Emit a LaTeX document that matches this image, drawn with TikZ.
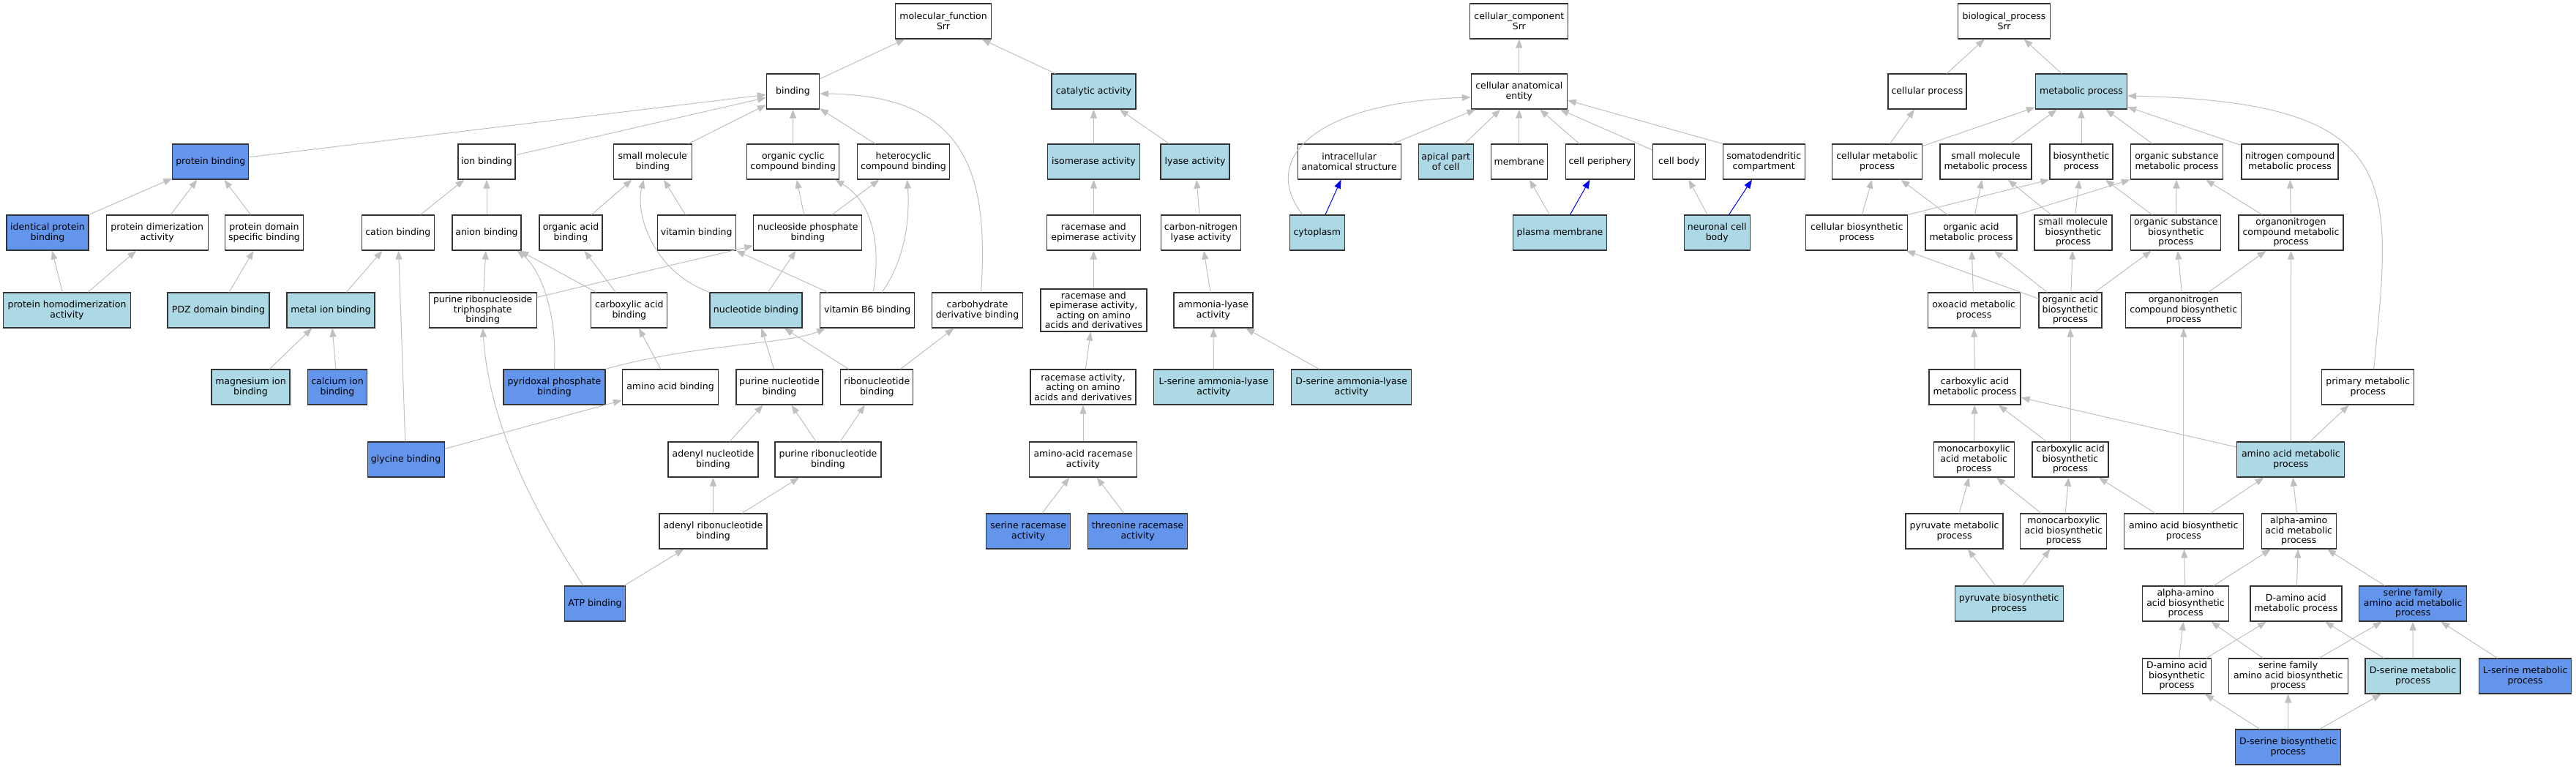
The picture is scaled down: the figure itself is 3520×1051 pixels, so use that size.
\documentclass[tikz,border=0pt]{standalone}
\usepackage{fontspec}
\setmainfont{DejaVu Sans}
\usetikzlibrary{arrows.meta}
\definecolor{nearblue}{HTML}{ADD8E6}
\definecolor{hitblue}{HTML}{6495ED}
\definecolor{edgegray}{HTML}{C0C0C0}
\newcommand{\golabel}{\fontsize{12.5}{13.5}\selectfont}

\begin{document}
\begin{tikzpicture}[x=1pt, y=-1pt,
    go/.style={draw=black!80, line width=1.2pt, fill=white, minimum height=48pt,
      inner xsep=2pt, inner ysep=4pt, align=center, font=\golabel},
    near/.style={go, fill=nearblue},
    hit/.style={go, fill=hitblue},
    wd/.style={minimum width=#1pt},
    isa/.style={draw=edgegray, line width=1pt, -{Triangle[length=12pt, width=9pt]}},
    every edge/.style={isa}]
  \path[use as bounding box, fill=white] (0,0) rectangle (3520,1051);

  % molecular function
  \node[go, wd=131] (mf) at (1289,29) {molecular\_function\\Srr};
  \node[go, wd=72] (bind) at (1083.5,125) {binding};
  \node[near, wd=115] (cat) at (1494.4,125) {catalytic activity};
  \node[hit, wd=104] (prot) at (287.8,221) {protein binding};
  \node[go, wd=78] (ion) at (665,221) {ion binding};
  \node[go, wd=107] (smb) at (891.8,221) {small molecule\\binding};
  \node[go, wd=126] (ocb) at (1083.7,221) {organic cyclic\\compound binding};
  \node[go, wd=126] (hcb) at (1234.5,221) {heterocyclic\\compound binding};
  \node[near, wd=126] (iso) at (1494.5,221) {isomerase activity};
  \node[near, wd=94] (lya) at (1633,221) {lyase activity};
  \node[hit, wd=112] (idp) at (65,318) {identical protein\\binding};
  \node[go, wd=139] (pda) at (214.7,318) {protein dimerization\\activity};
  \node[go, wd=107] (pds) at (361,318) {protein domain\\specific binding};
  \node[go, wd=99] (cati) at (543.8,318) {cation binding};
  \node[go, wd=94] (ani) at (665,318) {anion binding};
  \node[go, wd=86] (oab) at (780,318) {organic acid\\binding};
  \node[go, wd=107] (vit) at (951.7,318) {vitamin binding};
  \node[go, wd=148] (nspb) at (1103.8,318) {nucleoside phosphate\\binding};
  \node[go, wd=128] (rea) at (1494.4,318) {racemase and\\epimerase activity};
  \node[go, wd=109] (cnl) at (1641,318) {carbon-nitrogen\\lyase activity};
  \node[near, wd=174] (phd) at (91.5,424) {protein homodimerization\\activity};
  \node[near, wd=139] (pdz) at (298.5,424) {PDZ domain binding};
  \node[near, wd=120] (mib) at (452,424) {metal ion binding};
  \node[go, wd=147] (prtb) at (659.7,424) {purine ribonucleoside\\triphosphate\\binding};
  \node[go, wd=104] (cxb) at (859.8,424) {carboxylic acid\\binding};
  \node[near, wd=126] (ntb) at (1033,424) {nucleotide binding};
  \node[go, wd=129] (vb6) at (1185.2,424) {vitamin B6 binding};
  \node[go, wd=124] (cdb) at (1335.6,424) {carbohydrate\\derivative binding};
  \node[go, wd=145] (reaa) at (1494.4,424) {racemase and\\epimerase activity,\\acting on amino\\acids and derivatives};
  \node[go, wd=108] (aml) at (1658,424) {ammonia-lyase\\activity};
  \node[near, wd=107] (mgb) at (342.5,529) {magnesium ion\\binding};
  \node[hit, wd=81] (cab) at (461,529) {calcium ion\\binding};
  \node[hit, wd=139] (plp) at (757.4,529) {pyridoxal phosphate\\binding};
  \node[go, wd=131] (aab) at (916,529) {amino acid binding};
  \node[go, wd=118] (pnb) at (1065,529) {purine nucleotide\\binding};
  \node[go, wd=99] (rnb) at (1198.3,529) {ribonucleotide\\binding};
  \node[go, wd=144] (raa) at (1480,529) {racemase activity,\\acting on amino\\acids and derivatives};
  \node[near, wd=164] (lsal) at (1658.5,529) {L-serine ammonia-lyase\\activity};
  \node[near, wd=164] (dsal) at (1846.7,529) {D-serine ammonia-lyase\\activity};
  \node[hit, wd=105] (gly) at (554.6,628) {glycine binding};
  \node[go, wd=123] (anb) at (974.5,628) {adenyl nucleotide\\binding};
  \node[go, wd=145] (prnb) at (1131.5,628) {purine ribonucleotide\\binding};
  \node[go, wd=147] (aar) at (1480,628) {amino-acid racemase\\activity};
  \node[go, wd=147] (arnb) at (974.4,726) {adenyl ribonucleotide\\binding};
  \node[hit, wd=115] (sra) at (1405.2,726) {serine racemase\\activity};
  \node[hit, wd=136] (tra) at (1554.6,726) {threonine racemase\\activity};
  \node[hit, wd=83] (atp) at (813,825) {ATP binding};

  \path
  (bind) edge (mf)
  (cat) edge (mf)
  (prot) edge (bind)
  (ion) edge (bind)
  (smb) edge (bind)
  (ocb) edge (bind)
  (hcb) edge (bind)
  (idp) edge (prot)
  (pda) edge (prot)
  (pds) edge (prot)
  (phd) edge (idp)
  edge (pda)
  (pdz) edge (pds)
  (cati) edge (ion)
  (ani) edge (ion)
  (oab) edge (smb)
  (vit) edge (smb)
  (nspb) edge (ocb)
  edge (hcb)
  (mib) edge (cati)
  (prtb) edge (ani)
  edge (nspb)
  (cxb) edge (ani)
  edge (oab)
  (ntb) edge (nspb)
  (vb6) edge (vit)
  (mgb) edge (mib)
  (cab) edge (mib)
  (aab) edge (cxb)
  (pnb) edge (ntb)
  (rnb) edge (ntb)
  edge (cdb)
  (gly) edge (cati)
  edge (aab)
  (anb) edge (pnb)
  (prnb) edge (pnb)
  edge (rnb)
  (arnb) edge (anb)
  edge (prnb)
  (atp) edge (arnb);
  \path
  (iso) edge (cat)
  (lya) edge (cat)
  (rea) edge (iso)
  (cnl) edge (lya)
  (reaa) edge (rea)
  (aml) edge (cnl)
  (raa) edge (reaa)
  (lsal) edge (aml)
  (dsal) edge (aml)
  (aar) edge (raa)
  (sra) edge (aar)
  (tra) edge (aar);
  \draw[isa] ([xshift=5pt]cdb.north) .. controls (1350,250) and (1330,130) .. ([yshift=-3pt]bind.east);
  \draw[isa] ([xshift=-16pt]atp.north) .. controls (690,640) and (665,530) .. (prtb.south);
  \draw[isa] (plp.north) .. controls (762,420) and (735,365) .. ([xshift=-6pt]ani.south east);
  \draw[isa] (plp.north east) .. controls (950,470) and (1080,470) .. ([xshift=8pt]vb6.south west);
  \draw[isa] (ntb.north west) .. controls (890,370) and (868,290) .. ([xshift=-12pt]smb.south);
  \draw[isa] ([xshift=8pt]vb6.north) .. controls (1205,330) and (1190,275) .. ([xshift=-6pt]ocb.south east);
  \draw[isa] ([xshift=20pt]vb6.north) .. controls (1240,350) and (1243,290) .. ([xshift=5pt]hcb.south);

  % cellular component
  \node[go, wd=134] (cc) at (2075.8,29) {cellular\_component\\Srr};
  \node[go, wd=131] (cae) at (2075.8,125) {cellular anatomical\\entity};
  \node[go, wd=141] (ias) at (1843.7,221) {intracellular\\anatomical structure};
  \node[near, wd=75] (apc) at (1975.6,221) {apical part\\of cell};
  \node[go, wd=77] (mem) at (2075.8,221) {membrane};
  \node[go, wd=94] (cper) at (2186.4,221) {cell periphery};
  \node[go, wd=72] (cbody) at (2294.4,221) {cell body};
  \node[go, wd=112] (sdc) at (2410.2,221) {somatodendritic\\compartment};
  \node[near, wd=75] (cyto) at (1799.8,318) {cytoplasm};
  \node[near, wd=128] (pm) at (2131.5,318) {plasma membrane};
  \node[near, wd=90] (ncb) at (2346.2,318) {neuronal cell\\body};

  \path
  (cae) edge (cc)
  (ias) edge (cae)
  (apc) edge (cae)
  (mem) edge (cae)
  (cper) edge (cae)
  (cbody) edge (cae)
  (sdc.north west) edge ([yshift=-12pt]cae.east)
  (cyto) edge[draw=blue] (ias)
  (pm) edge (mem)
  edge[draw=blue] (cper)
  (ncb) edge (cbody)
  edge[draw=blue] (sdc);
  \draw[isa] ([xshift=18pt]cyto.north west) .. controls (1720,215) and (1800,140) .. ([yshift=-8pt]cae.west);

  % biological process
  \node[go, wd=126] (bp) at (2738.5,29) {biological\_process\\Srr};
  \node[go, wd=107] (cp) at (2633.4,125) {cellular process};
  \node[near, wd=125] (mp) at (2844,125) {metabolic process};
  \node[go, wd=123] (cmp) at (2565,221) {cellular metabolic\\process};
  \node[go, wd=125] (smmp) at (2713.4,221) {small molecule\\metabolic process};
  \node[go, wd=86] (bsp) at (2844,221) {biosynthetic\\process};
  \node[go, wd=126] (osmp) at (2974.4,221) {organic substance\\metabolic process};
  \node[go, wd=132] (ncmp) at (3129,221) {nitrogen compound\\metabolic process};
  \node[go, wd=139] (cbp) at (2537.2,318) {cellular biosynthetic\\process};
  \node[go, wd=125] (oamp) at (2693.4,318) {organic acid\\metabolic process};
  \node[go, wd=106] (smbp) at (2833,318) {small molecule\\biosynthetic\\process};
  \node[go, wd=123] (osbp) at (2973.3,318) {organic substance\\biosynthetic\\process};
  \node[go, wd=143] (oncmp) at (3130.5,318) {organonitrogen\\compound metabolic\\process};
  \node[go, wd=126] (oxmp) at (2697.2,424) {oxoacid metabolic\\process};
  \node[go, wd=86] (oabp) at (2829,424) {organic acid\\biosynthetic\\process};
  \node[go, wd=158] (oncbp) at (2983.8,424) {organonitrogen\\compound biosynthetic\\process};
  \node[go, wd=125] (camp) at (2698.5,529) {carboxylic acid\\metabolic process};
  \node[go, wd=126] (pmp) at (3235.7,529) {primary metabolic\\process};
  \node[go, wd=110] (mcmp) at (2697.2,628) {monocarboxylic\\acid metabolic\\process};
  \node[go, wd=104] (cabp) at (2829,628) {carboxylic acid\\biosynthetic\\process};
  \node[near, wd=147] (aamp) at (3130.3,628) {amino acid metabolic\\process};
  \node[go, wd=133] (pymp) at (2670.5,726) {pyruvate metabolic\\process};
  \node[go, wd=118] (mcbp) at (2819.8,726) {monocarboxylic\\acid biosynthetic\\process};
  \node[go, wd=163] (aabp) at (2983.8,726) {amino acid biosynthetic\\process};
  \node[go, wd=102] (aaamp) at (3141.2,726) {alpha-amino\\acid metabolic\\process};
  \node[near, wd=148] (pybp) at (2745.2,825) {pyruvate biosynthetic\\process};
  \node[go, wd=118] (aaabp) at (2986.5,825) {alpha-amino\\acid biosynthetic\\process};
  \node[go, wd=125] (damp) at (3137.4,825) {D-amino acid\\metabolic process};
  \node[hit, wd=147] (sfamp) at (3297.2,825) {serine family\\amino acid metabolic\\process};
  \node[go, wd=94] (dabp) at (2974.5,924) {D-amino acid\\biosynthetic\\process};
  \node[go, wd=163] (sfabp) at (3126.7,924) {serine family\\amino acid biosynthetic\\process};
  \node[near, wd=130] (dsmp) at (3297,924) {D-serine metabolic\\process};
  \node[hit, wd=126] (lsmp) at (3450.6,924) {L-serine metabolic\\process};
  \node[hit, wd=144] (dsbp) at (3126.6,1021) {D-serine biosynthetic\\process};

  \path
  (cp) edge (bp)
  (mp) edge (bp)
  (cmp) edge (cp)
  edge (mp)
  (smmp) edge (mp)
  (bsp) edge (mp)
  (osmp) edge (mp)
  (ncmp) edge (mp)
  (cbp) edge (cmp)
  (cbp.north east) edge (bsp.south west)
  (oamp) edge (cmp)
  edge (smmp)
  (oamp.north east) edge (osmp.south west)
  (smbp) edge (smmp)
  edge (bsp)
  (osbp) edge (bsp)
  edge (osmp)
  (oncmp) edge (osmp)
  edge (ncmp)
  (oxmp) edge (oamp)
  (oabp) edge (cbp)
  edge (oamp)
  edge (smbp)
  edge (osbp)
  (oncbp) edge (osbp)
  edge (oncmp)
  (camp) edge (oxmp)
  (mcmp) edge (camp)
  (cabp) edge (camp)
  edge (oabp)
  (aamp) edge (camp)
  edge (oncmp)
  edge (pmp)
  (pymp) edge (mcmp)
  (mcbp) edge (mcmp)
  edge (cabp)
  (aabp) edge (cabp)
  edge (oncbp)
  edge (aamp)
  (aaamp) edge (aamp)
  (pybp) edge (pymp)
  edge (mcbp)
  (aaabp) edge (aabp)
  edge (aaamp)
  (damp) edge (aaamp)
  (sfamp) edge (aaamp)
  (dabp) edge (aaabp)
  edge (damp)
  (sfabp) edge (aaabp)
  edge (sfamp)
  (dsmp) edge (damp)
  edge (sfamp)
  (lsmp) edge (sfamp)
  (dsbp) edge (dabp)
  edge (sfabp)
  edge (dsmp);
  \draw[isa] ([xshift=8pt]pmp.north) .. controls (3268,250) and (3290,140) .. ([yshift=-6pt]mp.east);
\end{tikzpicture}
\end{document}
